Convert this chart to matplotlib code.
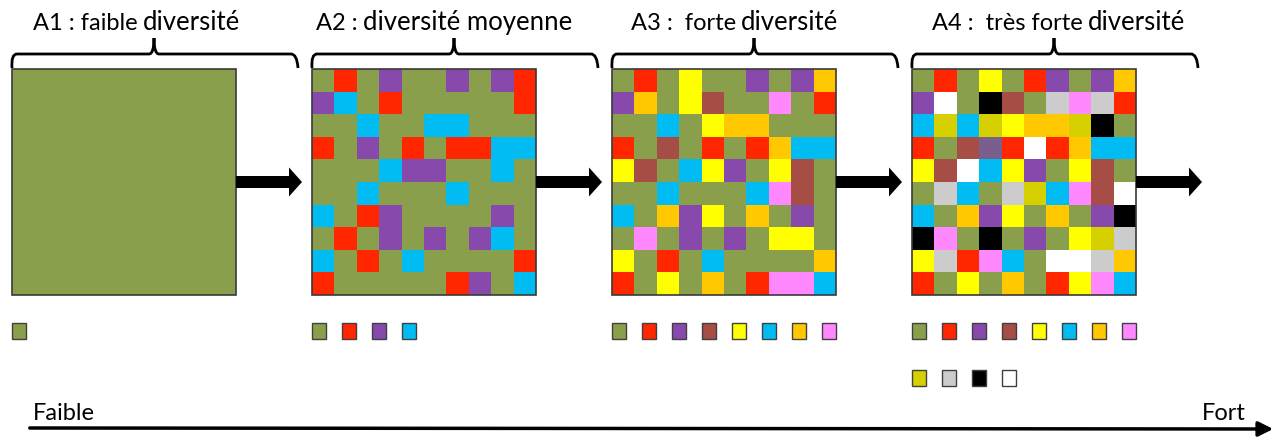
import matplotlib
matplotlib.use("Agg")
import matplotlib.pyplot as plt
import numpy as np
from matplotlib.colors import ListedColormap
from matplotlib.patches import Rectangle, Polygon, PathPatch
from matplotlib.path import Path

# colour codes used in the grids / legends
palette = {
    "G": "#8a9f4b",  # vert
    "R": "#ff2600",  # rouge
    "P": "#8849ad",  # violet
    "C": "#00bcf2",  # bleu ciel
    "Y": "#ffff00",  # jaune
    "O": "#ffc800",  # orange
    "B": "#a64d45",  # brun
    "K": "#ff88ff",  # rose
    "D": "#d6d000",  # jaune foncé
    "L": "#cccccc",  # gris clair
    "X": "#000000",  # noir
    "W": "#ffffff",  # blanc
    "V": "#7a5e8e",  # violet gris
}

grid_a1 = ["GGGGGGGGGG"] * 10

grid_a2 = ["GRGPGGPGPR",
           "PCGRGGGGGR",
           "GGCGGCCGGG",
           "RGPGRGRRCC",
           "GGGCPPGGCG",
           "GGCGGGCGGG",
           "CGRPGGGGPG",
           "GRGPGPGPCG",
           "CGRGCGGGGR",
           "RGGGGGRPGC"]

grid_a3 = ["GRGYGGPGPO",
           "POGYBGGKGR",
           "GGCGYOOGGG",
           "RGBGRGROCC",
           "YBGCYPGYBG",
           "GGCGGGCKBG",
           "CGOPYGOGPG",
           "GKGPGPGYYG",
           "YGRGCGGGGO",
           "RGYGOGRKKC"]

grid_a4 = ["GRGYGRPGPO",
           "PWGXBGLKLR",
           "CDCDYOODXG",
           "RGBVRWROCC",
           "YBWCYPGYBG",
           "GLCGLDCKBW",
           "CGOPYGOGPX",
           "XKGXGPGYDL",
           "YLRKCGWWLO",
           "RGYGOGRYKC"]

grids = [grid_a1, grid_a2, grid_a3, grid_a4]

title_small = ["A1 : faible", "A2 :", "A3 :  forte", "A4 :  très forte"]
title_big = ["diversité", "diversité moyenne", "diversité", "diversité"]

legend_rows = [
    [["G"]],
    [["G", "R", "P", "C"]],
    [["G", "R", "P", "B", "Y", "C", "O", "K"]],
    [["G", "R", "P", "B", "Y", "C", "O", "K"], ["D", "L", "X", "W"]],
]

axis_low = "Faible"
axis_high = "Fort"

# ---------------------------------------------------------------
W, H = 1272, 438
plt.rcParams['font.family'] = ['Lato', 'DejaVu Sans']
fig = plt.figure(figsize=(W / 100, H / 100), dpi=100)
ax = fig.add_axes([0, 0, 1, 1])
ax.set_xlim(0, W)
ax.set_ylim(H, 0)
ax.axis("off")

codes = list(palette.keys())
cmap = ListedColormap([palette[c] for c in codes])

x0s = [12, 312, 612, 912]
title_dx = [21, 4, 19, 20]
gw, gh = 224, 226
gy = 69

renderer = fig.canvas.get_renderer()

for i, grid in enumerate(grids):
    x0 = x0s[i]
    arr = np.array([[codes.index(ch) for ch in row] for row in grid])
    ax.imshow(arr, cmap=cmap, vmin=-0.5, vmax=len(codes) - 0.5,
              extent=(x0, x0 + gw, gy + gh, gy), interpolation="nearest",
              aspect="auto", zorder=1)
    ax.add_patch(Rectangle((x0, gy), gw, gh, fill=False, ec="#3a3a3a", lw=1.2, zorder=2))

    # arrow to the right of the grid
    ay = 182
    ax.add_patch(Polygon([(x0 + gw, ay - 6), (x0 + gw + 53, ay - 6), (x0 + gw + 53, ay - 14.5),
                          (x0 + gw + 66, ay), (x0 + gw + 53, ay + 14.5), (x0 + gw + 53, ay + 6),
                          (x0 + gw, ay + 6)], closed=True, fc="black", ec="none", zorder=3))

    # accolade au-dessus
    bx0, bx1 = x0 - 1, x0 + 285
    bm = (bx0 + bx1) / 2
    yl, yb, yt = 54, 68, 38
    verts = [(bx0 + 1, yb), (bx0, yl), (bx0 + 6, yl),
             (bm - 5, yl), (bm, yl), (bm, yt), (bm, yl), (bm + 5, yl),
             (bx1 - 6, yl), (bx1, yl), (bx1 + 1, yb)]
    cds = [Path.MOVETO, Path.CURVE3, Path.CURVE3,
           Path.LINETO, Path.CURVE3, Path.CURVE3, Path.CURVE3, Path.CURVE3,
           Path.LINETO, Path.CURVE3, Path.CURVE3]
    ax.add_patch(PathPatch(Path(verts, cds), fill=False, ec="black", lw=2, zorder=3))

    # titre, deux tailles de police
    tx = x0 + title_dx[i]
    t1 = ax.text(tx, 30, title_small[i], fontsize=17, va="baseline", ha="left", color="black")
    bb = t1.get_window_extent(renderer=renderer)
    x_end = ax.transData.inverted().transform((bb.x1, bb.y0))[0]
    ax.text(x_end + 5, 30, title_big[i], fontsize=18.5, va="baseline", ha="left", color="black")

    # légende des couleurs
    for r, row in enumerate(legend_rows[i]):
        for k, c in enumerate(row):
            ax.add_patch(Rectangle((x0 + k * 30, 323 + r * 47), 14, 16, fc=palette[c],
                                   ec="#404040", lw=1.0, zorder=3))

# axe du bas (la pointe sort légèrement du cadre)
ax.annotate("", xy=(1276, 429), xytext=(27, 428), annotation_clip=False,
            arrowprops=dict(arrowstyle="-|>", lw=2.5, color="black", mutation_scale=22), zorder=3)
ax.text(33, 420, axis_low, fontsize=17, va="baseline", ha="left")
ax.text(1246, 420, axis_high, fontsize=17, va="baseline", ha="right")

fig.savefig("out.png", dpi=100)
